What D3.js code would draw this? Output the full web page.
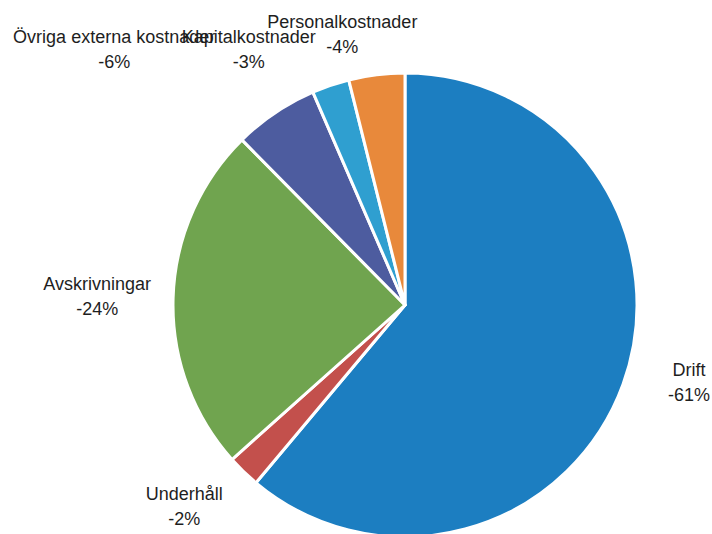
<!DOCTYPE html>
<html>
<head>
<meta charset="utf-8">
<script src="https://cdn.jsdelivr.net/npm/d3@7"></script>
<style>
	body { margin: 0; background: #fff; }
	text { font-family: "Liberation Sans", Arial, sans-serif; font-size: 18px; fill: #1e1e1e; }
</style>
</head>
<body>
<div id="chart"></div>
<script>
//	data, clockwise from 12 o'clock
var categories = ["Drift", "Underhåll", "Avskrivningar", "Övriga externa kostnader", "Kapitalkostnader", "Personalkostnader"];
var values = [-61.1, -2.3, -24.2, -5.9, -2.6, -3.9];
var colors = ["#1c7ec1", "#c3504c", "#70a44f", "#4d5c9f", "#2f9fd0", "#e8893b"];

//	label nudges (px) away from the default outside position
var labelNudge = [[2, -32], [-12, -20], [-8, -6], [-123, -13], [-60, 22], [-26, 21]];

var width = 712;
var height = 534;
var cx = 405;
var cy = 305;
var radius = 232;
var labelRadius = 300;

var svg = d3.select("#chart")
	.append("svg")
	.attr("width", width)
	.attr("height", height);

var pie = d3.pie()
	.sort(null)
	.value(function(d) { return Math.abs(d); });

var arcs = pie(values);

var arc = d3.arc()
	.innerRadius(0)
	.outerRadius(radius);

var labelArc = d3.arc()
	.innerRadius(labelRadius)
	.outerRadius(labelRadius);

var g = svg.append("g")
	.attr("transform", "translate(" + cx + "," + cy + ")");

g.selectAll(".slice")
	.data(arcs)
	.enter().append("path")
	.attr("class", "slice")
	.attr("d", arc)
	.style("fill", function(d, i) { return colors[i]; })
	.style("stroke", "#fff")
	.style("stroke-width", 3)
	.style("stroke-linejoin", "round");

var label = g.selectAll(".label")
	.data(arcs)
	.enter().append("text")
	.attr("class", "label")
	.attr("text-anchor", "middle")
	.attr("transform", function(d, i) {
		var c = labelArc.centroid(d);
		return "translate(" + (c[0] + labelNudge[i][0]) + "," + (c[1] + labelNudge[i][1]) + ")";
	});

label.append("tspan")
	.attr("x", 0)
	.attr("y", 0)
	.text(function(d, i) { return categories[i]; });

label.append("tspan")
	.attr("x", 0)
	.attr("y", 25)
	.text(function(d) { return Math.round(d.data) + "%"; });
</script>
</body>
</html>
